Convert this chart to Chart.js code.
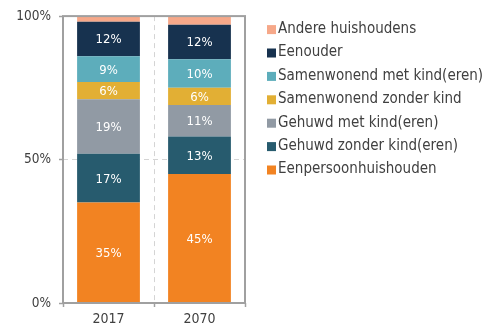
<!DOCTYPE html>
<html>
<head>
<meta charset="utf-8">
<script src="https://cdn.jsdelivr.net/npm/chart.js@4/dist/chart.umd.min.js"></script>
<style>
  html, body { margin: 0; padding: 0; background: #fff; }
  #wrap { width: 492px; height: 326px; position: relative; }
</style>
</head>
<body>
<div id="wrap"><canvas id="c" width="492" height="326"></canvas></div>
<script>
// Household composition, share of all households (%)
const years = ['2017', '2070'];
const eenpersoon = [35, 45];
const gehuwdZonderKind = [17, 13];
const gehuwdMetKind = [19, 11];
const samenwonendZonderKind = [6, 6];
const samenwonendMetKind = [9, 10];
const eenouder = [12, 12];
const andere = [2, 3];
const yTicks = [0, 50, 100];

const FONT = '"DejaVu Sans Condensed", "DejaVu Sans", sans-serif';
const TEXT = '#404040';
const FRAME = '#a0a0a0';

const datasets = [
  { label: 'Eenpersoonhuishouden', data: eenpersoon, backgroundColor: '#f28322' },
  { label: 'Gehuwd zonder kind(eren)', data: gehuwdZonderKind, backgroundColor: '#275b6e' },
  { label: 'Gehuwd met kind(eren)', data: gehuwdMetKind, backgroundColor: '#919aa4' },
  { label: 'Samenwonend zonder kind', data: samenwonendZonderKind, backgroundColor: '#e2af34' },
  { label: 'Samenwonend met kind(eren)', data: samenwonendMetKind, backgroundColor: '#5dadbb' },
  { label: 'Eenouder', data: eenouder, backgroundColor: '#17324f' },
  { label: 'Andere huishoudens', data: andere, backgroundColor: '#f6a889', noLabel: true }
];

// White percentage labels centred in each segment
const segmentLabels = {
  id: 'segmentLabels',
  afterDatasetsDraw(chart) {
    const ctx = chart.ctx;
    ctx.save();
    ctx.font = '13px ' + FONT;
    ctx.fillStyle = '#ffffff';
    ctx.textAlign = 'center';
    ctx.textBaseline = 'middle';
    chart.data.datasets.forEach((ds, i) => {
      if (ds.noLabel) return;
      chart.getDatasetMeta(i).data.forEach((el, j) => {
        const p = el.getProps(['x', 'y', 'base'], true);
        ctx.fillText(ds.data[j] + '%', p.x, (p.y + p.base) / 2 + 1);
      });
    });
    ctx.restore();
  }
};

// Grey frame around the plot area
const plotFrame = {
  id: 'plotFrame',
  afterDatasetsDraw(chart) {
    const a = chart.chartArea;
    const ctx = chart.ctx;
    ctx.save();
    ctx.strokeStyle = FRAME;
    ctx.lineWidth = 2;
    ctx.strokeRect(a.left, a.top, a.right - a.left, a.bottom - a.top);
    ctx.restore();
  }
};

// Legend to the right, listed top-down in stacking order
const sideLegend = {
  id: 'sideLegend',
  afterDraw(chart) {
    const ctx = chart.ctx;
    const items = chart.data.datasets.slice().reverse();
    ctx.save();
    ctx.font = '15px ' + FONT;
    ctx.textBaseline = 'middle';
    ctx.textAlign = 'left';
    items.forEach((ds, k) => {
      const cy = chart.chartArea.top + 13 + k * 23.4;
      ctx.fillStyle = ds.backgroundColor;
      ctx.fillRect(chart.chartArea.right + 22, cy - 4, 9, 9);
      ctx.fillStyle = TEXT;
      ctx.fillText(ds.label, chart.chartArea.right + 33, cy);
    });
    ctx.restore();
  }
};

new Chart(document.getElementById('c'), {
  type: 'bar',
  data: { labels: years, datasets: datasets },
  options: {
    responsive: false,
    animation: false,
    layout: { padding: { left: 0, right: 247, top: 16, bottom: 0 } },
    datasets: { bar: { categoryPercentage: 0.69, barPercentage: 1, borderWidth: 0 } },
    plugins: { legend: { display: false }, tooltip: { enabled: false } },
    scales: {
      x: {
        stacked: true,
        afterFit(scale) { scale.height = 23; },
        border: { display: false, dash: [5, 4] },
        grid: {
          offset: true,
          color: (c) => c.index === 1 ? '#d4d4d4' : 'rgba(0,0,0,0)',
          tickColor: FRAME,
          tickLength: 4,
          tickWidth: 1.5
        },
        ticks: { color: TEXT, font: { family: FONT, size: 14 }, padding: 4 }
      },
      y: {
        stacked: true,
        min: 0,
        max: 100,
        afterFit(scale) { scale.width = 63; },
        afterBuildTicks(scale) { scale.ticks = yTicks.map(v => ({ value: v })); },
        border: { display: false, dash: [5, 4] },
        grid: {
          color: (c) => c.tick && c.tick.value === 50 ? '#d4d4d4' : 'rgba(0,0,0,0)',
          tickColor: FRAME,
          tickLength: 4,
          tickWidth: 1.5
        },
        ticks: {
          color: TEXT,
          font: { family: FONT, size: 13.5 },
          padding: 8,
          callback: (v) => v + '%'
        }
      }
    }
  },
  plugins: [segmentLabels, plotFrame, sideLegend]
});
</script>
</body>
</html>
